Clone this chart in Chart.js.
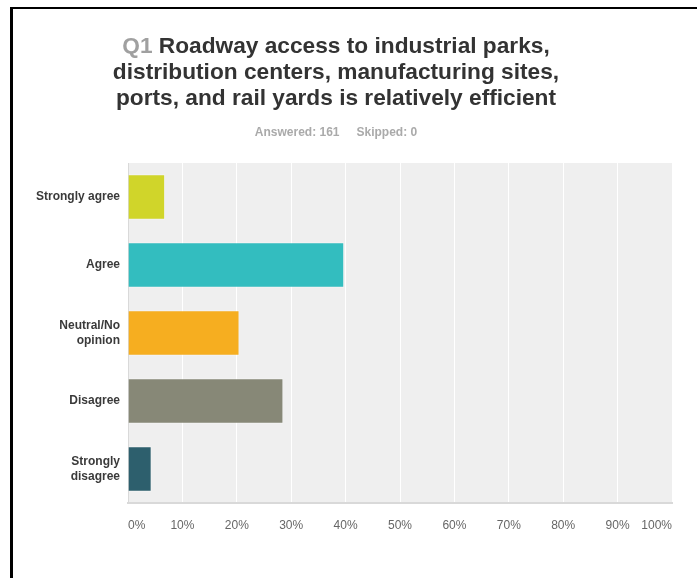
<!DOCTYPE html>
<html>
<head>
<meta charset="utf-8">
<script src="https://cdn.jsdelivr.net/npm/chart.js@4.4.0/dist/chart.umd.min.js"></script>
<style>
  html, body { margin: 0; padding: 0; background: #fff; overflow: hidden; }
  #wrap { position: relative; width: 697px; height: 578px; }
  #frame { position: absolute; left: 10px; top: 7px; width: 700px; height: 600px;
           border-top: 2px solid #000; border-left: 3px solid #000; pointer-events: none; }
  #title { position: absolute; left: 0; top: 32px; width: 672px; text-align: center;
           font-family: "Liberation Sans", Arial, Helvetica, sans-serif; font-weight: bold;
           font-size: 22.7px; line-height: 26px; color: #333; }
  #title .q { color: #a0a0a0; }
  #sub { position: absolute; left: 0; top: 125px; width: 672px; text-align: center;
         font-family: "Liberation Sans", Arial, Helvetica, sans-serif; font-weight: bold;
         font-size: 12px; line-height: 14px; color: #aaa; }
  #sub span + span { margin-left: 17px; }
  canvas { position: absolute; left: 0; top: 0; }
</style>
</head>
<body>
<div id="wrap">
  <canvas id="c" width="697" height="578"></canvas>
  <div id="frame"></div>
  <div id="title"><span class="q">Q1</span> Roadway access to industrial parks,<br>distribution centers, manufacturing sites,<br>ports, and rail yards is relatively efficient</div>
  <div id="sub"><span>Answered: 161</span><span>Skipped: 0</span></div>
</div>
<script>
const categories = ["Strongly agree", "Agree", ["Neutral/No", "opinion"], "Disagree", ["Strongly", "disagree"]];
const values = [6.83, 39.75, 20.50, 28.57, 4.35];
const barColors = ["#d0d52a", "#33bdbf", "#f6ae20", "#878877", "#2d5f6d"];
const tickLabels = ["0%", "10%", "20%", "30%", "40%", "50%", "60%", "70%", "80%", "90%", "100%"];

const plotBg = {
  id: 'plotBg',
  beforeDraw(chart) {
    const a = chart.chartArea, ctx = chart.ctx;
    ctx.save();
    ctx.fillStyle = '#efefef';
    ctx.fillRect(a.left, a.top, a.right - a.left, a.bottom - a.top);
    ctx.restore();
  }
};

new Chart(document.getElementById('c'), {
  type: 'bar',
  data: {
    labels: categories,
    datasets: [{
      data: values,
      backgroundColor: barColors,
      borderColor: 'rgba(255,255,255,0.35)',
      borderWidth: 1,
      categoryPercentage: 1,
      barPercentage: 0.67
    }]
  },
  options: {
    indexAxis: 'y',
    responsive: false,
    animation: false,
    layout: { padding: { top: 163, right: 25, left: 0, bottom: 0 } },
    plugins: { legend: { display: false }, tooltip: { enabled: false }, title: { display: false } },
    scales: {
      x: {
        min: 0, max: 100,
        afterFit(s) { s.height = 75; },
        afterBuildTicks(s) { s.ticks = tickLabels.map((t, i) => ({ value: i * 10 })); },
        ticks: {
          stepSize: 10,
          padding: 15,
          align: 'inner',
          color: '#666',
          font: { family: '"Liberation Sans", Arial, sans-serif', size: 12 },
          callback: (v, i) => tickLabels[i]
        },
        grid: {
          drawTicks: false,
          color: (ctx) => (ctx.index === 0 || ctx.index === 10) ? 'rgba(0,0,0,0)' : '#ffffff',
          lineWidth: 1
        },
        border: { display: true, color: '#d9d9d9', width: 2 }
      },
      y: {
        afterFit(s) { s.width = 128; },
        ticks: {
          padding: 8,
          color: '#3a3a3a',
          font: { family: '"Liberation Sans", Arial, sans-serif', size: 12, weight: 'bold', lineHeight: 1.3 }
        },
        grid: { display: false, drawTicks: false },
        border: { display: true, color: '#d9d9d9', width: 1 }
      }
    }
  },
  plugins: [plotBg]
});
</script>
</body>
</html>
